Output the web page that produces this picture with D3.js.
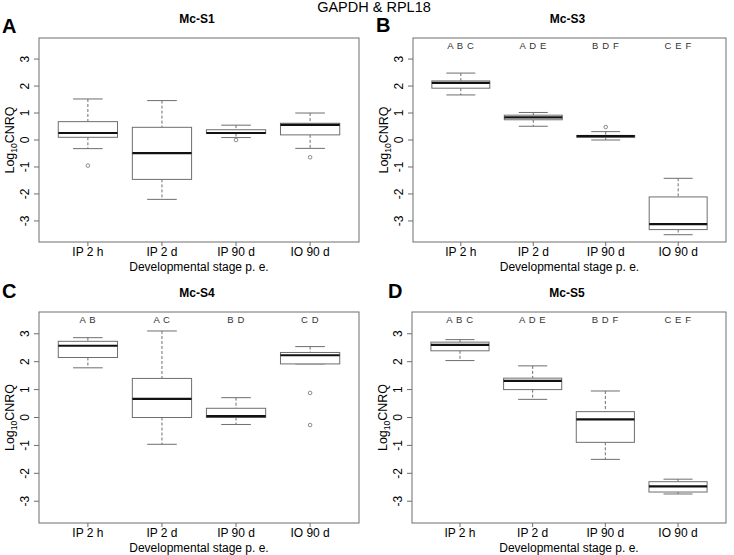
<!DOCTYPE html>
<html>
<head>
<meta charset="utf-8">
<script src="https://cdn.jsdelivr.net/npm/d3@7"></script>
<style>
  body { margin: 0; background: #fff; }
  svg { display: block; font-family: Arial, "Liberation Sans", sans-serif; }
</style>
</head>
<body>
<div id="chart"></div>
<script>
// values: [lower whisker, Q1, median, Q3, upper whisker]
const categories = ['IP 2 h', 'IP 2 d', 'IP 90 d', 'IO 90 d'];
const yTicks = [-3, -2, -1, 0, 1, 2, 3];

const s1Stats = [[-0.32, 0.10, 0.26, 0.68, 1.52], [-2.20, -1.46, -0.49, 0.47, 1.46], [0.09, 0.24, 0.26, 0.38, 0.55], [-0.31, 0.19, 0.56, 0.62, 1.00]];
const s1Outliers = [[-0.95], [], [0.00], [-0.64]];
const s1Letters = [];

const s3Stats = [[1.67, 1.92, 2.12, 2.19, 2.48], [0.51, 0.75, 0.84, 0.92, 1.02], [0.00, 0.10, 0.14, 0.17, 0.31], [-3.51, -3.32, -3.12, -2.11, -1.42]];
const s3Outliers = [[], [], [0.48], []];
const s3Letters = ['A B C', 'A D E', 'B D F', 'C E F'];

const s4Stats = [[1.78, 2.15, 2.57, 2.73, 2.86], [-0.96, 0.00, 0.67, 1.40, 3.10], [-0.25, 0.00, 0.05, 0.33, 0.71], [1.92, 1.92, 2.23, 2.33, 2.54]];
const s4Outliers = [[], [], [], [0.88, -0.27]];
const s4Letters = ['A B', 'A C', 'B D', 'C D'];

const s5Stats = [[2.04, 2.39, 2.60, 2.70, 2.79], [0.65, 1.00, 1.31, 1.41, 1.85], [-1.50, -0.89, -0.07, 0.21, 0.95], [-2.74, -2.67, -2.47, -2.30, -2.21]];
const s5Outliers = [[], [], [], []];
const s5Letters = ['A B C', 'A D E', 'B D F', 'C E F'];

const W = 734, H = 555;
const GREY = '#6e6e6e';

const panels = [
    {tag: 'A', title: 'Mc-S1', stats: s1Stats, outliers: s1Outliers, letters: s1Letters,
     x0: 39, x1: 359, y0: 38, y1: 242, tagX: 2, tagY: 33},
    {tag: 'B', title: 'Mc-S3', stats: s3Stats, outliers: s3Outliers, letters: s3Letters,
     x0: 413, x1: 726, y0: 38, y1: 242, tagX: 376, tagY: 32},
    {tag: 'C', title: 'Mc-S4', stats: s4Stats, outliers: s4Outliers, letters: s4Letters,
     x0: 39, x1: 359, y0: 312, y1: 523, tagX: 2, tagY: 298},
    {tag: 'D', title: 'Mc-S5', stats: s5Stats, outliers: s5Outliers, letters: s5Letters,
     x0: 412, x1: 726, y0: 312, y1: 523, tagX: 388, tagY: 298}
];

const svg = d3.select('#chart').append('svg')
    .attr('width', W).attr('height', H);

svg.append('text')
    .attr('x', 374).attr('y', 12)
    .attr('text-anchor', 'middle')
    .style('font-size', '14.5px')
    .text('GAPDH & RPL18');

panels.forEach(drawPanel);

function drawPanel(p) {
    const g = svg.append('g');
    const x = d3.scaleLinear().domain([0.34, 4.66]).range([p.x0, p.x1]);
    const y = d3.scaleLinear().domain([-3.78, 3.78]).range([p.y1, p.y0]);
    const half = (x(1) - x(0)) * 0.4;
    const cap = half / 2;

    g.append('text')
        .attr('x', p.tagX).attr('y', p.tagY)
        .style('font-size', '20px').style('font-weight', 'bold')
        .text(p.tag);

    g.append('text')
        .attr('x', (p.x0 + p.x1) / 2 - 2).attr('y', p.y0 - 15)
        .attr('text-anchor', 'middle')
        .style('font-size', '12px').style('font-weight', 'bold')
        .text(p.title);

    // y axis
    const yAxis = g.append('g');
    yAxis.selectAll('line').data(yTicks).enter().append('line')
        .attr('x1', p.x0 - 5).attr('x2', p.x0)
        .attr('y1', (d) => y(d)).attr('y2', (d) => y(d))
        .attr('stroke', GREY);
    yAxis.selectAll('text').data(yTicks).enter().append('text')
        .attr('transform', (d) => 'translate(' + (p.x0 - 10) + ',' + y(d) + ') rotate(-90)')
        .attr('text-anchor', 'middle')
        .style('font-size', '12px')
        .text((d) => d);

    const yl = g.append('text')
        .attr('transform', 'translate(' + (p.x0 - 25) + ',' + ((p.y0 + p.y1) / 2) + ') rotate(-90)')
        .attr('text-anchor', 'middle')
        .style('font-size', '12.5px');
    yl.append('tspan').text('Log');
    yl.append('tspan').attr('dy', 3).style('font-size', '8.5px').text('10');
    yl.append('tspan').attr('dy', -3).text('CNRQ');

    // x axis
    const xAxis = g.append('g');
    xAxis.selectAll('line').data(categories).enter().append('line')
        .attr('x1', (d, i) => x(i + 1)).attr('x2', (d, i) => x(i + 1))
        .attr('y1', p.y1).attr('y2', p.y1 + 4)
        .attr('stroke', GREY);
    xAxis.selectAll('text').data(categories).enter().append('text')
        .attr('x', (d, i) => x(i + 1)).attr('y', p.y1 + 14)
        .attr('text-anchor', 'middle')
        .style('font-size', '12px')
        .text((d) => d);
    g.append('text')
        .attr('x', (p.x0 + p.x1) / 2).attr('y', p.y1 + 29)
        .attr('text-anchor', 'middle')
        .style('font-size', '12px')
        .text('Developmental stage p. e.');

    // significance letters
    g.selectAll('text.sig').data(p.letters).enter().append('text')
        .attr('class', 'sig')
        .attr('x', (d, i) => x(i + 1)).attr('y', p.y0 + 11)
        .attr('text-anchor', 'middle')
        .style('font-size', '9.5px').style('letter-spacing', '0.6px')
        .attr('fill', '#333')
        .text((d) => d);

    // boxes
    const box = g.selectAll('g.box').data(p.stats).enter().append('g').attr('class', 'box');
    box.append('line')
        .attr('x1', (d, i) => x(i + 1)).attr('x2', (d, i) => x(i + 1))
        .attr('y1', (d) => y(d[4])).attr('y2', (d) => y(d[3]))
        .attr('stroke', GREY).attr('stroke-dasharray', '3,2');
    box.append('line')
        .attr('x1', (d, i) => x(i + 1)).attr('x2', (d, i) => x(i + 1))
        .attr('y1', (d) => y(d[1])).attr('y2', (d) => y(d[0]))
        .attr('stroke', GREY).attr('stroke-dasharray', '3,2');
    box.append('line')
        .attr('x1', (d, i) => x(i + 1) - cap).attr('x2', (d, i) => x(i + 1) + cap)
        .attr('y1', (d) => y(d[4])).attr('y2', (d) => y(d[4]))
        .attr('stroke', GREY);
    box.append('line')
        .attr('x1', (d, i) => x(i + 1) - cap).attr('x2', (d, i) => x(i + 1) + cap)
        .attr('y1', (d) => y(d[0])).attr('y2', (d) => y(d[0]))
        .attr('stroke', GREY);
    box.append('rect')
        .attr('x', (d, i) => x(i + 1) - half).attr('width', half * 2)
        .attr('y', (d) => y(d[3])).attr('height', (d) => y(d[1]) - y(d[3]))
        .attr('fill', '#fff').attr('stroke', GREY);
    box.append('line')
        .attr('x1', (d, i) => x(i + 1) - half).attr('x2', (d, i) => x(i + 1) + half)
        .attr('y1', (d) => y(d[2])).attr('y2', (d) => y(d[2]))
        .attr('stroke', '#111').attr('stroke-width', 2.2);

    p.outliers.forEach((vals, i) => {
        g.selectAll(null).data(vals).enter().append('circle')
            .attr('cx', x(i + 1)).attr('cy', (d) => y(d))
            .attr('r', 1.8)
            .attr('fill', 'none').attr('stroke', GREY).attr('stroke-width', 0.8);
    });

    // plot frame
    g.append('rect')
        .attr('x', p.x0).attr('y', p.y0)
        .attr('width', p.x1 - p.x0).attr('height', p.y1 - p.y0)
        .attr('fill', 'none').attr('stroke', GREY);
}
</script>
</body>
</html>
